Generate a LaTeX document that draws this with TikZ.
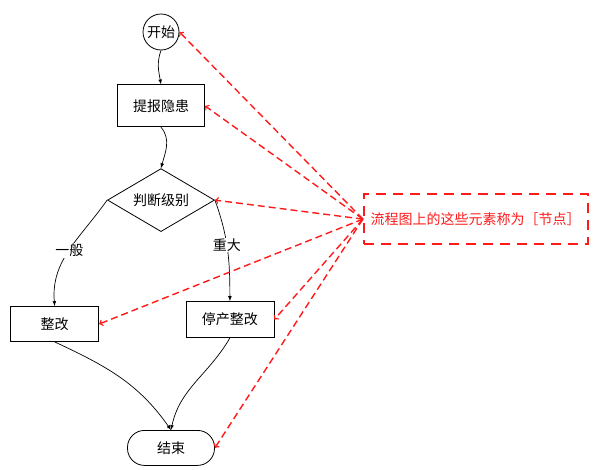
\documentclass[tikz,border=0pt]{standalone}
\usepackage{fontspec}
\setmainfont{Noto Sans CJK SC}
\usetikzlibrary{positioning,shapes.geometric}
\usepackage{xcolor}
\definecolor{noteRed}{HTML}{FF1A1A}

\begin{document}
\begin{tikzpicture}[
        x=1pt, y=1pt,
        font=\fontsize{14}{16}\selectfont,
        box/.style={draw, rectangle, align=center, minimum width=87pt, minimum height=36pt, inner sep=0pt, line width=0.8pt}, % plain step
        choice/.style={draw, diamond, aspect=1.7, minimum width=107pt, minimum height=63pt, inner sep=0pt, line width=0.8pt},
        terminal/.style={draw, rectangle, rounded corners=17pt, minimum width=87pt, minimum height=35pt, inner sep=0pt, line width=0.8pt},
        lbl/.style={fill=white, inner sep=1pt},
        flow/.style={-latex, line width=0.7pt}, % black connectors
        note box/.style={noteRed, draw, line width=1.6pt, dash pattern=on 10pt off 7pt, minimum width=224pt, minimum height=50pt, inner sep=0pt},
        note arrow/.style={->, noteRed, line width=1.4pt, dash pattern=on 7pt off 4pt} % red pointers
    ]
    \useasboundingbox (0,0) rectangle (597,-469);

    \node[draw, circle, minimum size=36pt, inner sep=0pt, line width=0.8pt] (start) at (161,-32) {开始};
    \node[box, below=34pt of start, minimum height=42pt] (report) {提报隐患};
    \node[choice, below=41pt of report] (judge) {判断级别};
    \node[box, below left=106pt and 8pt of judge.west, minimum width=88pt, minimum height=35pt] (fix) {整改};
    \node[box, below=101pt of judge.east, xshift=15pt, minimum width=88pt] (stop) {停产整改};
    \node[terminal, below=198pt of judge.south, xshift=10pt] (end) {结束};

    \node[note box, right=148pt of judge.east, yshift=-19pt] (note) {流程图上的这些元素称为［节点］};

    \draw[flow] (start.south) to[out=-110, in=100] (report.north);
    \draw[flow] (report.south) to[out=-50, in=75] (judge.north);
    \draw[flow] (judge.west) to[out=-125, in=95] node[lbl] (gen) {一般} (fix.north);
    \draw[flow] (judge.east) to[out=-70, in=90] node[lbl, pos=0.45] (major) {重大} (stop.north);
    \draw[flow] (fix.south) to[out=-25, in=125] (end.north);
    \draw[flow] (stop.south) to[out=-120, in=78] (end.north);

    \draw[note arrow] (note.west) -- (start.east);
    \draw[note arrow] (note.west) -- (report.east);
    \draw[note arrow] (note.west) -- (judge.east);
    \draw[note arrow] (note.west) -- (fix.east);
    \draw[note arrow] (note.west) -- (stop.east);
    \draw[note arrow] (note.west) -- (end.east);
\end{tikzpicture}
\end{document}
